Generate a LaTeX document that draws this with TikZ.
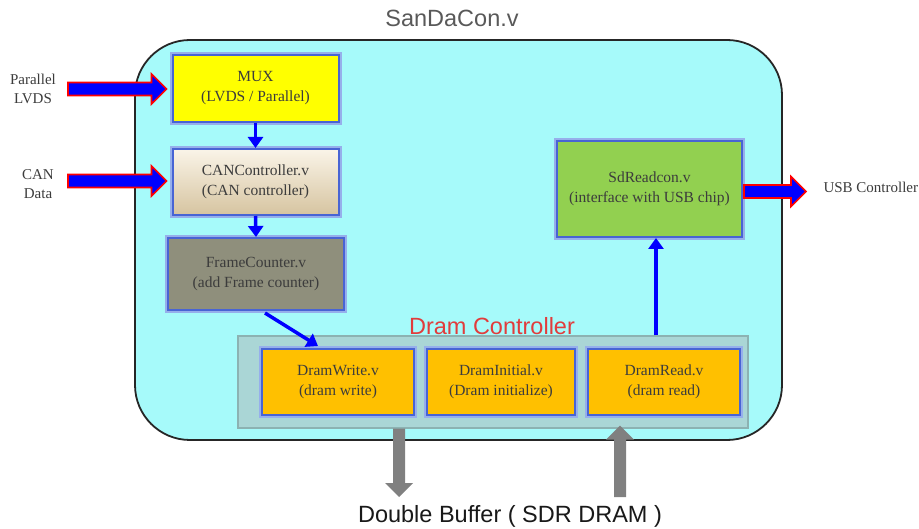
\documentclass[tikz,border=0pt]{standalone}
\usepackage{fontspec}
\setmainfont{Liberation Serif}
\newfontfamily\headfont{Liberation Sans}
\usetikzlibrary{arrows.meta,calc}

\definecolor{chipbg}{RGB}{166,250,250}
\definecolor{ctrlbg}{RGB}{170,214,214}
\definecolor{ctrlline}{RGB}{140,178,178}
\definecolor{muxfill}{RGB}{255,255,0}
\definecolor{cantop}{RGB}{250,244,232}
\definecolor{canbot}{RGB}{214,196,160}
\definecolor{framefill}{RGB}{143,143,124}
\definecolor{dramfill}{RGB}{255,192,0}
\definecolor{sdfill}{RGB}{146,208,80}
\definecolor{glow}{RGB}{72,100,212}
\definecolor{glowsoft}{RGB}{150,175,235}
\definecolor{flowblue}{RGB}{0,0,255}
\definecolor{bustext}{RGB}{225,60,60}
\definecolor{textgray}{RGB}{60,60,60}
\definecolor{busgray}{RGB}{128,128,128}

\tikzset{
  module/.style={
    preaction={draw=glowsoft, line width=6pt},
    draw=glow, line width=2pt, align=center, inner sep=0pt,
    text=textgray, font=\fontsize{15.5}{20}\selectfont},
  flow/.style={draw=flowblue, line width=3.5pt,
    -{Triangle[length=11pt,width=15pt]}},
  portlabel/.style={text=textgray, align=center,
    font=\fontsize{15}{19}\selectfont},
  headline/.style={font=\headfont\fontsize{23.5}{26}\selectfont},
  fatarrow/.style={fill=flowblue, draw=red, line width=1.6pt, line join=miter},
  busarrow/.style={fill=busgray, draw=none}
}

% horizontal fat arrow from #1 to tip at #2
\newcommand{\fatright}[2]{%
  \path[fatarrow] let \p1=(#1), \p2=(#2) in
    (\x1,\y1-6.5pt) -- (\x2-15pt,\y1-6.5pt) -- (\x2-15pt,\y1-15pt) --
    (\x2,\y1) -- (\x2-15pt,\y1+15pt) -- (\x2-15pt,\y1+6.5pt) --
    (\x1,\y1+6.5pt) -- cycle;}
% vertical grey bus arrow from #1 to tip at #2; #3 = +1 points down, -1 points up
\newcommand{\busvert}[3]{%
  \path[busarrow] let \p1=(#1), \p2=(#2) in
    (\x1-6pt,\y1) -- (\x1-6pt,\y2+#3*14pt) -- (\x1-14pt,\y2+#3*14pt) --
    (\x1,\y2) -- (\x1+14pt,\y2+#3*14pt) -- (\x1+6pt,\y2+#3*14pt) --
    (\x1+6pt,\y1) -- cycle;}

\begin{document}
\begin{tikzpicture}[x=1pt,y=-1pt]
\useasboundingbox (0,0) rectangle (919,529);
\fill[white] (0,0) rectangle (919,529);

% chip outline
\node[headline, text=black!65] (title) at (452,18) {SanDaCon.v};
\draw[fill=chipbg, draw=black!85, line width=1.8pt, rounded corners=55pt]
  (135,40) rectangle (782,440);

% DRAM controller group
\node[fill=ctrlbg, draw=ctrlline, line width=1.2pt, minimum width=510pt,
  minimum height=92pt, inner sep=0pt] (dc) at (493,382) {};
\node[headline, text=bustext] (dclab) at (492,326) {Dram Controller};

% modules
\node[module, fill=muxfill, minimum width=166pt, minimum height=67pt] (mux) at (255.5,88.5)
  {MUX\\(LVDS / Parallel)};
\node[module, top color=cantop, bottom color=canbot, minimum width=166pt, minimum height=66pt] (can) at (255.5,182)
  {CANController.v\\(CAN controller)};
\node[module, fill=framefill, minimum width=176pt, minimum height=72pt] (frame) at (256,274)
  {FrameCounter.v\\(add Frame counter)};
\node[module, fill=dramfill, minimum width=152pt, minimum height=66pt] (dwrite) at (338,382)
  {DramWrite.v\\(dram write)};
\node[module, fill=dramfill, minimum width=148pt, minimum height=66pt] (dinit) at (501,382)
  {DramInitial.v\\(Dram initialize)};
\node[module, fill=dramfill, minimum width=152pt, minimum height=66pt] (dread) at (664,382)
  {DramRead.v\\(dram read)};
\node[module, fill=sdfill, minimum width=185pt, minimum height=96pt] (sd) at (649.5,189)
  {SdReadcon.v\\(interface with USB chip)};

% internal data flow
\draw[flow] (mux.south) -- (can.north);
\draw[flow] (can.south) -- (frame.north);
\draw[flow] ([xshift=9pt,yshift=-2pt]frame.south) -- ([xshift=-20pt,yshift=2pt]dwrite.north);
\draw[flow] ([xshift=6.5pt]sd.south |- dc.north) -- ([xshift=6.5pt]sd.south);

% external ports
\node[portlabel] (plab) at (33,89) {Parallel\\LVDS};
\node[portlabel] (clab) at (38,184) {CAN\\Data};
\node[portlabel, anchor=west] (ulab) at (820,187) {USB Controller};
\coordinate (pin) at (68,89);
\coordinate (cin) at (68,181);
\coordinate (uout) at (806,186.5);
\fatright{pin}{[xshift=-5pt]mux.west}
\fatright{cin}{[xshift=-5pt,yshift=-1pt]can.west}
\fatright{[xshift=1pt,yshift=-2.5pt]sd.east}{uout}

% SDRAM buses
\node[headline, text=black!90] (sdram) at (510,516)
  {Double Buffer ( SDR DRAM )};
\coordinate (wbus) at (399,497);
\coordinate (rbus) at (620,497);
\busvert{[xshift=-94pt]dc.south}{wbus}{1}
\busvert{rbus}{[xshift=127pt,yshift=3pt]dc.south}{-1}
\end{tikzpicture}
\end{document}
